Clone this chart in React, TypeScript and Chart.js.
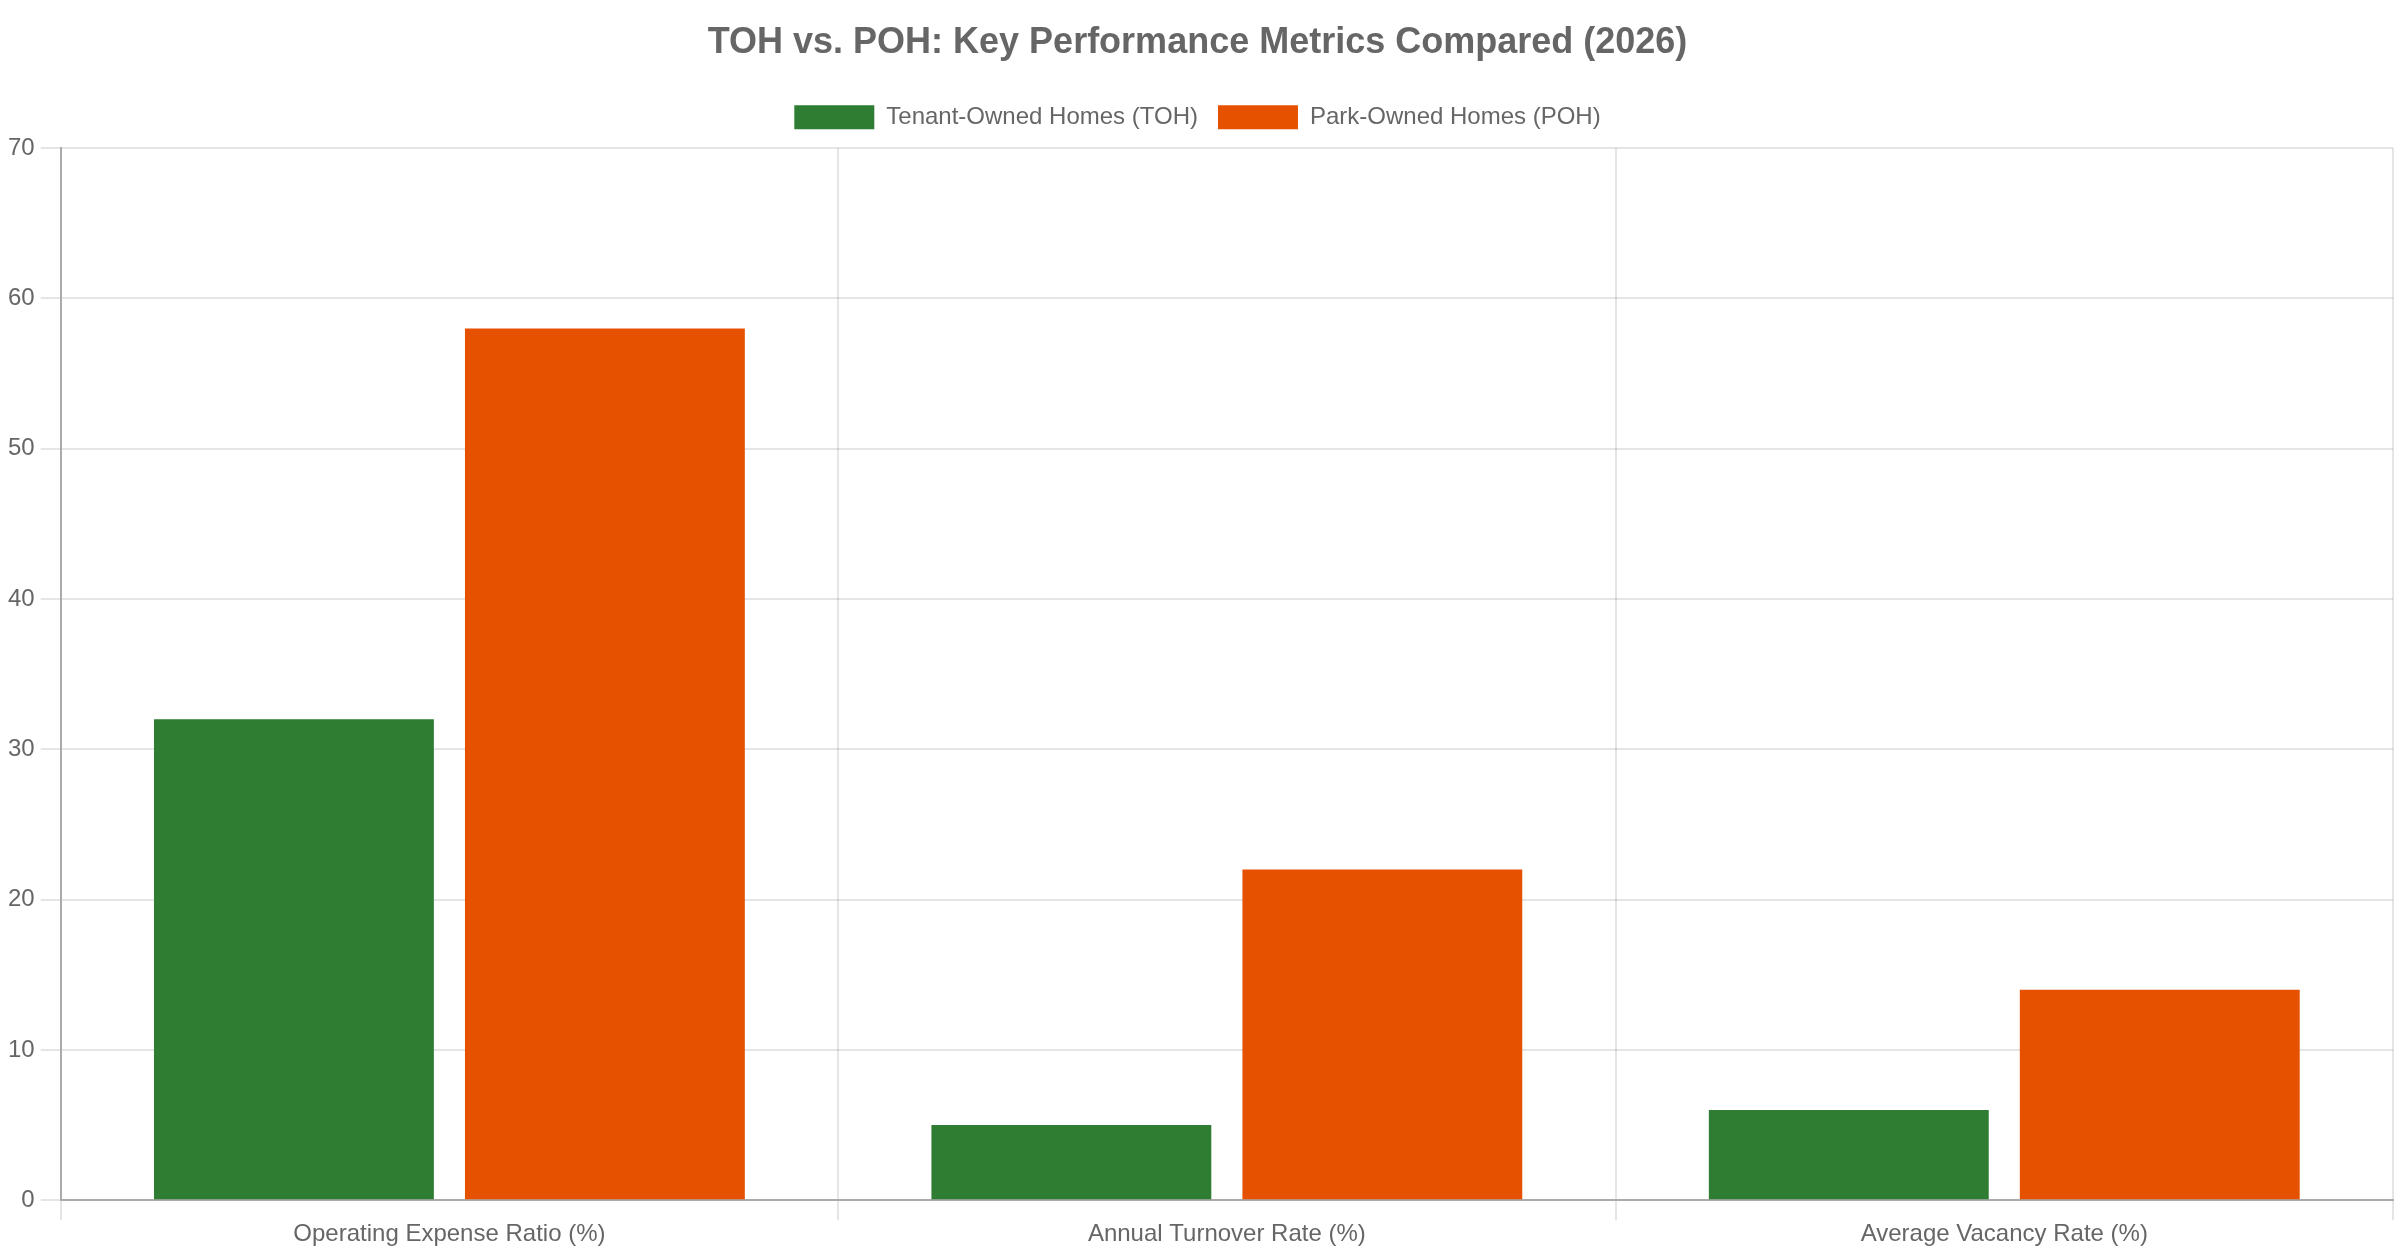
import React, { useEffect, useRef } from "react";
import { Chart, registerables } from "chart.js";

Chart.register(...registerables);

const categories = [
  "Operating Expense Ratio (%)",
  "Annual Turnover Rate (%)",
  "Average Vacancy Rate (%)",
];
const tohValues = [32, 5, 6];
const pohValues = [58, 22, 14];
const seriesLabels = ["Tenant-Owned Homes (TOH)", "Park-Owned Homes (POH)"];
const titleText = "TOH vs. POH: Key Performance Metrics Compared (2026)";

const legendMargin = {
  id: "legendMargin",
  beforeInit(chart: any) {
    const legend = chart.legend;
    if (!legend) return;
    const fit = legend.fit;
    legend.fit = function () {
      fit.bind(legend)();
      this.height += 9;
    };
  },
};

export default function App() {
  const ref = useRef<HTMLCanvasElement | null>(null);

  useEffect(() => {
    document.body.style.margin = "0";
    const ctx = ref.current;
    if (!ctx) return;
    const chart = new Chart(ctx, {
      type: "bar",
      data: {
        labels: categories,
        datasets: [
          {
            label: seriesLabels[0],
            data: tohValues,
            backgroundColor: "#2e7d32",
            borderWidth: 0,
          },
          {
            label: seriesLabels[1],
            data: pohValues,
            backgroundColor: "#e65100",
            borderWidth: 0,
          },
        ],
      },
      plugins: [legendMargin],
      options: {
        animation: false,
        responsive: false,
        maintainAspectRatio: false,
        layout: { padding: { left: 2, right: 7, top: 0, bottom: 11 } },
        plugins: {
          title: {
            display: true,
            text: titleText,
            color: "#666",
            font: { size: 36, weight: "bold" },
            padding: { top: 21, bottom: 21 },
          },
          legend: {
            display: true,
            labels: {
              color: "#666",
              font: { size: 24 },
              boxWidth: 80,
              boxHeight: 24,
              padding: 20,
            },
          },
          tooltip: { enabled: false },
        },
        scales: {
          x: {
            grid: {
              color: "rgba(0,0,0,0.1)",
              lineWidth: 2,
              tickLength: 20,
              offset: true,
            },
            border: { color: "#aaa", width: 2 },
            ticks: { color: "#666", font: { size: 24 }, padding: 0 },
          },
          y: {
            min: 0,
            max: 70,
            ticks: { stepSize: 10, color: "#666", font: { size: 24 }, padding: 6 },
            grid: { color: "rgba(0,0,0,0.1)", lineWidth: 2, tickLength: 20 },
            border: { color: "#aaa", width: 2 },
          },
        },
      },
    });
    return () => chart.destroy();
  }, []);

  return (
    <div style={{ width: 2400, height: 1260 }}>
      <canvas ref={ref} width={2400} height={1260} style={{ display: "block" }} />
    </div>
  );
}
